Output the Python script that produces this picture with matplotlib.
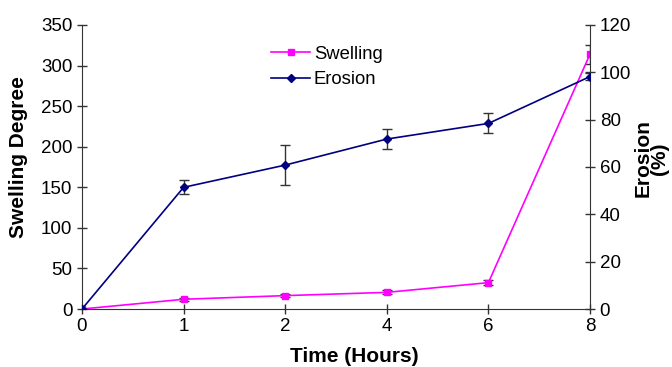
import matplotlib
matplotlib.use("Agg")
from matplotlib import pyplot as plt
from matplotlib.lines import Line2D
import numpy as np

plt.rcParams['font.family'] = ['Liberation Sans', 'DejaVu Sans']

# datos
horas = ['0', '1', '2', '4', '6', '8']
swelling = [0, 12, 16.5, 20.5, 32.5, 314]
swelling_err = [0, 2, 2, 2.5, 3.5, 11.7]
erosion = [0, 51.4, 60.8, 71.8, 78.4, 98.2]
erosion_err = [0, 3.0, 8.4, 4.2, 4.2, 1.5]

x = np.arange(len(horas))

fig = plt.figure(figsize=(6.72, 3.67), dpi=100)
ax = fig.add_axes([0.122, 0.158, 0.756, 0.774])
ax2 = ax.twinx()

ax.errorbar(x, swelling, yerr=swelling_err, color='#FF00FF', marker='s',
            markersize=5, linewidth=1.2, ecolor='#333333', elinewidth=1,
            capsize=3.5, zorder=3)
ax2.errorbar(x, erosion, yerr=erosion_err, color='#000080', marker='D',
             markersize=4.5, linewidth=1.2, ecolor='#333333', elinewidth=1,
             capsize=3.5, zorder=3)

ax.set_xlim(0, 5)
ax.set_ylim(0, 350)
ax2.set_ylim(0, 120)
ax.set_xticks(x)
ax.set_xticklabels(horas)
ax.set_yticks(range(0, 351, 50))
ax2.set_yticks(range(0, 121, 20))

for a in (ax, ax2):
    a.spines['top'].set_visible(False)
    a.tick_params(direction='inout', length=7, width=1, labelsize=13.5,
                  color='#333333')
    for s in a.spines.values():
        s.set_color('#333333')
ax.spines['right'].set_visible(False)
ax2.spines['left'].set_visible(False)
ax2.spines['bottom'].set_visible(False)
ax.tick_params(axis='x', pad=3)

ax.set_xlabel('Time (Hours)', fontsize=15, fontweight='bold')
ax.set_ylabel('Swelling Degree', fontsize=15, fontweight='bold')
ax2.set_ylabel('Erosion\n(%)', fontsize=15, fontweight='bold',
               linespacing=0.85)
# posiciones de las etiquetas como en la figura original
ax.xaxis.set_label_coords(0.537, -0.135)
ax.yaxis.set_label_coords(-0.106, 0.535)
ax2.yaxis.set_label_coords(1.085, 0.53)

handles = [Line2D([], [], color='#FF00FF', marker='s', markersize=5, lw=1.2),
           Line2D([], [], color='#000080', marker='D', markersize=4.5, lw=1.2)]
ax2.legend(handles, ['Swelling', 'Erosion'], loc='upper left',
           bbox_to_anchor=(0.34, 0.985), frameon=False, fontsize=13.3,
           handlelength=2.1, handletextpad=0.2, labelspacing=0.45)

plt.savefig('out.png', dpi=100)
